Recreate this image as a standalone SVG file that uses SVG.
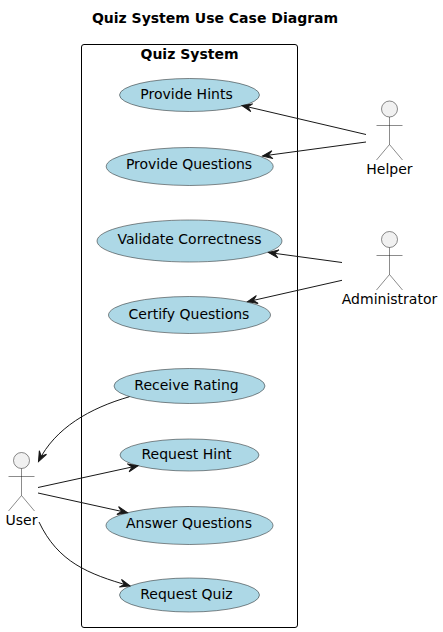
<svg xmlns="http://www.w3.org/2000/svg" width="443" height="632" viewBox="0 0 443 632">
<style>
text{font-family:"DejaVu Sans",sans-serif;font-size:14px;fill:#000;text-anchor:middle}
.b{font-weight:bold}
.uc{fill:#ADD8E6;stroke:#181818;stroke-width:.5}
.actor{fill:none;stroke:#181818;stroke-width:.5}
.head{fill:#F1F1F1;stroke:#181818;stroke-width:.5}
.link{fill:none;stroke:#181818;stroke-width:1;marker-end:url(#arrow)}
</style>
<defs>
<marker id="arrow" markerUnits="userSpaceOnUse" markerWidth="14" markerHeight="12" refX="11" refY="5" orient="auto" overflow="visible"><path d="M1,1 L11,5 L1,9 L5,5 Z" fill="#181818" stroke="#181818" stroke-width="1"/></marker>
</defs>
<rect width="443" height="632" fill="#fff"/>
<text id="title" class="b" x="215" y="23">Quiz System Use Case Diagram</text>
<g id="system">
<rect x="81.5" y="44.5" width="216" height="583" rx="2.5" fill="none" stroke="#000" stroke-width="1"/>
<text class="b" x="189.5" y="59">Quiz System</text>
</g>
<g id="provide-hints"><ellipse class="uc" cx="189.5" cy="95" rx="70" ry="16.5"/><text x="186.5" y="99">Provide Hints</text></g>
<g id="provide-questions"><ellipse class="uc" cx="189.7" cy="166.5" rx="83.5" ry="19"/><text x="189" y="169">Provide Questions</text></g>
<g id="validate-correctness"><ellipse class="uc" cx="189.5" cy="241" rx="92.5" ry="21"/><text x="189.5" y="244">Validate Correctness</text></g>
<g id="certify-questions"><ellipse class="uc" cx="189.5" cy="315" rx="81" ry="18.5"/><text x="189" y="319">Certify Questions</text></g>
<g id="receive-rating"><ellipse class="uc" cx="189.5" cy="386" rx="75.5" ry="17.5"/><text x="186.5" y="390">Receive Rating</text></g>
<g id="request-hint"><ellipse class="uc" cx="189.5" cy="455" rx="69.5" ry="16"/><text x="186.5" y="459">Request Hint</text></g>
<g id="answer-questions"><ellipse class="uc" cx="189.5" cy="525.5" rx="83.5" ry="19"/><text x="189" y="528">Answer Questions</text></g>
<g id="request-quiz"><ellipse class="uc" cx="189.5" cy="595" rx="70" ry="17"/><text x="186.5" y="599">Request Quiz</text></g>
<g id="helper"><circle class="head" cx="389.5" cy="109" r="8"/><path class="actor" d="M389.5,117V144.5M376.5,125.5H402.5M389.5,144.5L376.5,160M389.5,144.5L402.5,160"/><text x="389.5" y="174">Helper</text></g>
<g id="administrator"><circle class="head" cx="389.5" cy="239.5" r="8"/><path class="actor" d="M389.5,247.5V274.5M376.5,255.5H402.5M389.5,274.5L376.5,290M389.5,274.5L402.5,290"/><text x="389.5" y="304">Administrator</text></g>
<g id="user"><circle class="head" cx="21.5" cy="460.5" r="8"/><path class="actor" d="M21.5,468.5V495.5M8.5,476.5H34.5M21.5,495.5L8.5,511M21.5,495.5L34.5,511"/><text x="21.5" y="525">User</text></g>
<g id="connectors">
<path class="link" d="M366,134.5L242,105.5"/>
<path class="link" d="M366,142L262.5,156"/>
<path class="link" d="M342,262.5L268.5,252.5"/>
<path class="link" d="M342,280.3L247.5,301.7"/>
<path class="link" d="M129.5,396.7C90,408 55,428 38.5,461.5"/>
<path class="link" d="M38,487.5L138,465.7"/>
<path class="link" d="M38,493L127.5,512.7"/>
<path class="link" d="M39,522C58,562 88,574 130,586"/>
</g>
</svg>
